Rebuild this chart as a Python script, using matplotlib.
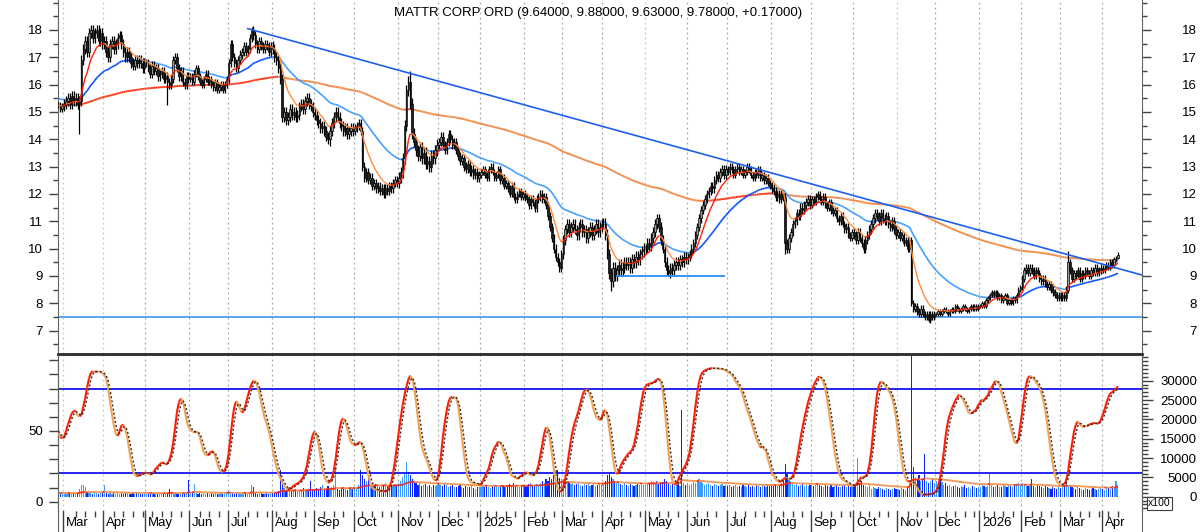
import numpy as np
import pandas as pd
import matplotlib
matplotlib.use('Agg')
import matplotlib.pyplot as plt
from matplotlib.collections import LineCollection

plt.rcParams['font.family'] = ['Liberation Sans', 'DejaVu Sans']

TITLE = "MATTR CORP ORD (9.64000, 9.88000, 9.63000, 9.78000, +0.17000)"
START = '2024-02-27'

# ---- daily closes, one list per month ----
c_2024_02 = [15.25, 15.1, 15.2]
c_2024_03 = [15.3, 15.4, 15.5, 15.3, 15.6, 15.4, 15.5, 15.3, 15.4, 16.9, 17.3, 17.6, 17.2, 17.9, 18.0, 17.7, 17.9, 18.0, 17.6, 17.9, 17.5]
c_2024_04 = [17.6, 17.2, 17.0, 17.5, 17.6, 17.3, 17.5, 17.7, 17.8, 17.5, 17.2, 17.0, 17.2, 17.0, 16.8, 16.7, 16.9, 16.8, 16.9, 16.8, 16.6, 16.8]
c_2024_05 = [16.8, 16.6, 16.4, 16.7, 16.5, 16.6, 16.3, 16.4, 16.5, 16.2, 16.3, 16.1, 16.0, 16.2, 16.9, 17.0, 16.6, 16.3, 16.5, 16.1, 16.0, 16.3, 16.2]
c_2024_06 = [16.3, 16.1, 16.4, 16.6, 16.3, 16.1, 16.0, 16.2, 16.4, 16.1, 16.2, 16.0, 15.9, 16.1, 15.8, 15.9, 16.0, 15.8, 16.0, 16.2]
c_2024_07 = [16.8, 17.5, 17.0, 16.8, 16.6, 16.9, 17.1, 17.2, 17.4, 17.2, 17.3, 17.7, 18.0, 17.8, 17.5, 17.3, 17.6, 17.4, 17.3, 17.5, 17.4, 17.2, 17.4]
c_2024_08 = [17.3, 17.0, 16.9, 16.6, 16.2, 14.8, 15.0, 14.7, 14.8, 15.1, 14.9, 15.0, 14.8, 14.9, 15.2, 15.3, 15.1, 15.4, 15.5, 15.3, 15.2, 15.0]
c_2024_09 = [14.9, 14.7, 14.6, 14.4, 14.5, 14.3, 14.1, 14.0, 14.3, 14.6, 14.8, 15.0, 14.8, 14.6, 14.5, 14.3, 14.4, 14.2, 14.3, 14.4, 14.3]
c_2024_10 = [14.4, 14.5, 14.6, 14.3, 13.0, 12.6, 12.8, 12.5, 12.6, 12.3, 12.4, 12.2, 12.3, 12.1, 12.2, 12.0, 12.2, 12.1, 12.3, 12.2, 12.4, 12.5, 12.4]
c_2024_11 = [12.6, 12.8, 13.3, 14.5, 15.8, 16.1, 15.3, 14.2, 13.9, 13.6, 13.4, 13.7, 13.3, 13.5, 13.1, 13.2, 13.0, 13.4, 13.3, 13.6, 13.8]
c_2024_12 = [13.9, 14.1, 13.8, 13.6, 13.9, 14.2, 14.0, 13.8, 13.9, 13.6, 13.4, 13.2, 13.3, 13.0, 12.9, 13.1, 12.8, 12.9, 12.7, 12.8, 12.6, 12.7]
c_2025_01 = [12.8, 12.9, 12.7, 12.6, 12.9, 13.0, 12.8, 12.6, 12.7, 12.9, 12.5, 12.6, 12.3, 12.4, 12.2, 12.0, 12.3, 11.9, 11.8, 12.0, 12.1, 11.9, 12.0]
c_2025_02 = [11.9, 11.8, 11.6, 11.8, 11.7, 11.5, 11.8, 11.9, 12.0, 11.8, 11.9, 11.6, 11.2, 10.8, 10.4, 10.0, 9.7, 9.5, 9.3, 9.8]
c_2025_03 = [10.3, 10.7, 10.9, 10.6, 10.8, 10.9, 10.7, 10.5, 10.8, 10.9, 10.6, 10.7, 10.4, 10.6, 10.8, 10.5, 10.7, 10.9, 10.6, 10.8, 10.9]
c_2025_04 = [10.9, 10.5, 9.8, 9.1, 8.8, 9.3, 9.0, 9.2, 9.4, 9.2, 9.3, 9.5, 9.4, 9.5, 9.3, 9.6, 9.5, 9.7, 9.6, 9.8, 9.9, 10.0]
c_2025_05 = [10.0, 10.2, 10.1, 10.4, 10.6, 10.9, 11.1, 10.8, 10.3, 10.0, 9.5, 9.2, 9.1, 9.3, 9.2, 9.4, 9.5, 9.4, 9.6, 9.5, 9.7, 9.6]
c_2025_06 = [9.7, 9.8, 10.0, 10.2, 10.5, 10.8, 11.1, 11.4, 11.6, 11.8, 12.0, 12.1, 12.3, 12.2, 12.5, 12.7, 12.6, 12.8, 12.9, 12.7, 12.9]
c_2025_07 = [12.8, 13.0, 12.9, 12.7, 12.9, 13.0, 12.8, 12.9, 12.7, 12.8, 13.0, 12.9, 12.7, 12.6, 12.8, 12.7, 12.9, 12.6, 12.7, 12.5, 12.6, 12.4, 12.3]
c_2025_08 = [12.2, 12.1, 11.9, 12.0, 11.8, 12.0, 11.9, 10.2, 10.0, 10.4, 10.6, 10.9, 11.0, 11.3, 11.2, 11.5, 11.4, 11.6, 11.7, 11.8, 11.6]
c_2025_09 = [11.8, 11.7, 11.9, 12.0, 11.8, 11.7, 11.9, 11.6, 11.5, 11.7, 11.4, 11.3, 11.4, 11.1, 11.0, 11.2, 10.9, 10.7, 10.8, 10.5, 10.4, 10.6]
c_2025_10 = [10.5, 10.3, 10.6, 10.4, 10.2, 10.0, 10.3, 10.5, 10.7, 10.9, 11.1, 11.3, 11.2, 11.0, 11.3, 11.1, 11.0, 11.2, 10.9, 10.8, 11.0, 10.7, 10.5]
c_2025_11 = [10.6, 10.4, 10.5, 10.2, 10.3, 10.0, 10.3, 8.0, 7.8, 7.9, 7.7, 7.6, 7.8, 7.6, 7.5, 7.6, 7.4, 7.6, 7.5, 7.6]
c_2025_12 = [7.6, 7.7, 7.6, 7.7, 7.8, 7.7, 7.6, 7.7, 7.8, 7.7, 7.9, 7.8, 7.7, 7.8, 7.9, 7.8, 7.7, 7.8, 7.9, 7.8, 7.9, 7.8, 7.9]
c_2026_01 = [7.9, 8.0, 7.9, 8.1, 8.2, 8.3, 8.4, 8.3, 8.4, 8.2, 8.3, 8.1, 8.2, 8.3, 8.0, 8.1, 8.0, 8.2, 8.1, 8.3, 8.5, 8.6]
c_2026_02 = [8.9, 9.2, 9.3, 9.1, 9.3, 9.2, 9.0, 9.2, 9.1, 8.9, 8.8, 8.9, 8.7, 8.6, 8.7, 8.5, 8.4, 8.3, 8.2, 8.3]
c_2026_03 = [8.2, 8.3, 8.2, 8.5, 9.5, 9.2, 8.9, 9.1, 9.0, 9.2, 8.9, 9.1, 9.0, 9.2, 9.1, 9.0, 9.2, 9.1, 9.3, 9.1, 9.2, 9.3]
c_2026_04 = [9.2, 9.3, 9.4, 9.3, 9.5, 9.4, 9.6, 9.61, 9.78]

# ---- daily volume (x100), one list per month ----
v_2024_02 = [9, 8, 10]
v_2024_03 = [8, 9, 7, 10, 8, 9, 8, 9, 20, 31, 30, 26, 12, 10, 9, 8, 11, 9, 8, 10, 9]
v_2024_04 = [29, 9, 8, 10, 7, 9, 8, 11, 7, 9, 8, 10, 9, 7, 8, 9, 8, 10, 9, 7, 8, 9]
v_2024_05 = [8, 9, 7, 10, 8, 9, 8, 7, 9, 8, 10, 9, 20, 12, 10, 9, 8, 7, 9, 8, 10, 9, 44]
v_2024_06 = [12, 10, 34, 9, 8, 10, 7, 9, 8, 9, 8, 10, 7, 9, 8, 7, 9, 8, 10, 9]
v_2024_07 = [15, 12, 9, 8, 10, 9, 8, 7, 9, 10, 8, 9, 30, 25, 9, 8, 10, 9, 8, 7, 9, 8, 10]
v_2024_08 = [10, 9, 12, 15, 68, 40, 22, 18, 20, 25, 15, 18, 20, 14, 16, 18, 22, 15, 17, 20, 40, 18]
v_2024_09 = [18, 22, 20, 25, 30, 18, 20, 28, 22, 25, 30, 72, 20, 18, 22, 25, 20, 18, 22, 24, 20]
v_2024_10 = [25, 22, 30, 70, 55, 45, 40, 50, 35, 30, 28, 32, 30, 25, 28, 30, 35, 28, 25, 30, 28, 32, 30]
v_2024_11 = [35, 40, 50, 60, 90, 65, 55, 45, 40, 35, 30, 35, 28, 30, 32, 28, 30, 25, 30, 28, 30]
v_2024_12 = [35, 30, 28, 32, 30, 25, 28, 30, 26, 24, 28, 30, 25, 22, 28, 26, 24, 30, 22, 20, 25, 24]
v_2025_01 = [26, 28, 24, 30, 25, 22, 28, 26, 30, 24, 25, 28, 30, 26, 28, 32, 30, 35, 28, 30, 26, 28, 30]
v_2025_02 = [30, 28, 32, 35, 30, 28, 33, 30, 35, 40, 35, 45, 40, 50, 45, 55, 50, 70, 48, 45]
v_2025_03 = [45, 40, 35, 38, 32, 35, 30, 33, 35, 30, 28, 32, 30, 35, 28, 30, 32, 28, 30, 35, 32]
v_2025_04 = [35, 40, 55, 60, 50, 45, 40, 35, 38, 32, 30, 35, 30, 28, 32, 30, 28, 30, 32, 30, 35, 30]
v_2025_05 = [30, 32, 35, 40, 38, 35, 40, 32, 35, 38, 45, 40, 35, 30, 32, 28, 30, 32, 28, 224, 35, 30]
v_2025_06 = [35, 30, 32, 38, 35, 40, 45, 38, 35, 30, 32, 35, 30, 28, 32, 30, 28, 30, 32, 28, 30]
v_2025_07 = [28, 30, 25, 28, 30, 26, 28, 25, 30, 28, 26, 30, 25, 28, 26, 30, 28, 25, 30, 28, 26, 30, 28]
v_2025_08 = [30, 28, 32, 30, 28, 35, 40, 85, 60, 45, 40, 35, 30, 32, 28, 30, 32, 28, 30, 28, 30]
v_2025_09 = [32, 28, 30, 35, 30, 28, 25, 30, 28, 26, 30, 25, 28, 30, 26, 25, 28, 30, 25, 28, 26, 30]
v_2025_10 = [28, 30, 100, 35, 40, 30, 28, 25, 30, 20, 25, 22, 20, 25, 22, 20, 18, 22, 20, 18, 20, 22, 20]
v_2025_11 = [20, 18, 22, 20, 18, 25, 30, 370, 78, 50, 45, 55, 40, 45, 110, 40, 35, 40, 45, 35]
v_2025_12 = [40, 35, 45, 38, 30, 35, 28, 30, 25, 28, 30, 25, 22, 28, 25, 30, 22, 25, 20, 28, 25, 22, 25]
v_2026_01 = [25, 30, 28, 25, 28, 59, 30, 25, 28, 30, 26, 25, 30, 28, 25, 30, 28, 26, 30, 32, 35, 30]
v_2026_02 = [35, 30, 32, 28, 30, 45, 28, 25, 30, 28, 25, 22, 28, 25, 22, 20, 25, 22, 20, 25]
v_2026_03 = [22, 25, 28, 45, 30, 28, 25, 22, 20, 25, 22, 20, 18, 22, 20, 18, 20, 22, 20, 18, 20, 22]
v_2026_04 = [20, 18, 25, 22, 20, 28, 22, 40, 30]

# typical wick length beyond the candle body, per month (price units)
wick_by_month = [0.12, 0.18, 0.18, 0.15, 0.12, 0.15, 0.18, 0.18, 0.15, 0.2, 0.15, 0.12, 0.15,
                 0.18, 0.2, 0.18, 0.15, 0.12, 0.15, 0.12, 0.15, 0.12, 0.07, 0.08, 0.12, 0.12, 0.1]

# notable wick extremes
low_wicks = {'2024-03-13': 14.2, '2024-05-16': 15.25, '2024-09-12': 13.75, '2025-04-07': 8.45,
             '2025-05-19': 9.0, '2025-08-12': 9.8, '2025-11-25': 7.3, '2026-04-13': 9.63}
high_wicks = {'2024-07-17': 18.1, '2024-11-11': 16.5, '2025-05-12': 11.25, '2026-03-06': 9.9,
              '2026-04-13': 9.88}
last_open = 9.64

# starting levels of the moving averages (read at left edge)
ma_seed = {'short': 15.25, 'mid': 15.5, 'long': 15.25}
vol_ma_seed = 1000

trend_start = ('2024-07-15', 18.05)
trend_end_price_at_edge = 9.03
support_9 = ('2025-04-10', '2025-06-27', 9.0)
support_75 = 7.5

price_ticks = list(range(7, 19))
osc_ticks = [0, 50]
vol_ticks = [0, 5000, 10000, 15000, 20000, 25000, 30000]

# ---------------------------------------------------------------
months_c = [c_2024_02, c_2024_03, c_2024_04, c_2024_05, c_2024_06, c_2024_07, c_2024_08,
            c_2024_09, c_2024_10, c_2024_11, c_2024_12, c_2025_01, c_2025_02, c_2025_03,
            c_2025_04, c_2025_05, c_2025_06, c_2025_07, c_2025_08, c_2025_09, c_2025_10,
            c_2025_11, c_2025_12, c_2026_01, c_2026_02, c_2026_03, c_2026_04]
months_v = [v_2024_02, v_2024_03, v_2024_04, v_2024_05, v_2024_06, v_2024_07, v_2024_08,
            v_2024_09, v_2024_10, v_2024_11, v_2024_12, v_2025_01, v_2025_02, v_2025_03,
            v_2025_04, v_2025_05, v_2025_06, v_2025_07, v_2025_08, v_2025_09, v_2025_10,
            v_2025_11, v_2025_12, v_2026_01, v_2026_02, v_2026_03, v_2026_04]
close = np.array([x for m in months_c for x in m], dtype=float)
vol = np.array([x for m in months_v for x in m], dtype=float) * 100
wick = np.array([w for m, w in zip(months_c, wick_by_month) for _ in m], dtype=float)
n = len(close)
dates = pd.bdate_range(START, periods=n)
idx = np.arange(n)

opn = np.concatenate([[close[0]], close[:-1]])
opn[-1] = last_open
high = np.maximum(opn, close) + wick
low = np.minimum(opn, close) - wick
pos = {d.strftime('%Y-%m-%d'): i for i, d in enumerate(dates)}
for d, v in low_wicks.items():
    if d in pos:
        low[pos[d]] = v
for d, v in high_wicks.items():
    if d in pos:
        high[pos[d]] = v


def ema(x, period, seed):
    a = 2.0 / (period + 1)
    out = np.empty(len(x))
    prev = seed
    for i, v in enumerate(x):
        prev = prev + a * (v - prev)
        out[i] = prev
    return out


ma_s = ema(close, 10, ma_seed['short'])
ma_m = ema(close, 40, ma_seed['mid'])
ma_l = ema(close, 200, ma_seed['long'])
vma = ema(vol, 40, vol_ma_seed)

hh = pd.Series(high).rolling(14, min_periods=1).max().values
ll = pd.Series(low).rolling(14, min_periods=1).min().values
rng = hh - ll
raw = np.where(rng > 0, 100 * (close - ll) / np.where(rng > 0, rng, 1), np.nan)
k1 = pd.Series(raw).rolling(5, min_periods=1).mean()
kline = k1.rolling(3, min_periods=1).mean().values
dline = pd.Series(kline).rolling(3, min_periods=1).mean().values


def dir_line(ax, x, y, up_col, dn_col, lw, z=3):
    pts = np.column_stack([x, y])
    segs = np.stack([pts[:-1], pts[1:]], axis=1)
    ok = ~np.isnan(segs).any(axis=(1, 2))
    cols = np.where(np.diff(y) >= 0, up_col, dn_col)
    lc = LineCollection(segs[ok], colors=list(cols[ok]), linewidths=lw, zorder=z)
    ax.add_collection(lc, autolim=False)


W, H = 1200, 532
fig = plt.figure(figsize=(12, 5.32), dpi=100)
L, R = 58, 1142
ax1 = fig.add_axes([L / W, 1 - 354 / H, (R - L) / W, 354 / H])
axv = fig.add_axes([L / W, 1 - 511 / H, (R - L) / W, (511 - 354) / H])
ax2 = fig.add_axes([L / W, 1 - 511 / H, (R - L) / W, (511 - 354) / H])
ax3 = fig.add_axes([L / W, 0, (R - L) / W, 21 / H])

XL = (-0.2, 566.6)
VL = (-3698, 36905)

# month boundaries
mstarts = [i for i in range(1, n) if dates[i].month != dates[i - 1].month]
green_months = {(2024, 3), (2024, 4), (2025, 5), (2025, 11)}
for i in mstarts:
    col = '#a6dca6' if (dates[i].year, dates[i].month) in green_months else '#a8a8a8'
    for a in (ax1, axv):
        a.axvline(i - 0.5, color=col, lw=0.9, ls=(0, (1.5, 2.5)), zorder=0)

# candles
up = close >= opn
ax1.vlines(idx, low, high, color='black', lw=0.9, zorder=4)
ax1.bar(idx[up], (close - opn)[up], bottom=opn[up], width=0.75, color='#8e9e8e',
        edgecolor='black', linewidth=0.5, zorder=5)
ax1.bar(idx[~up], (close - opn)[~up], bottom=opn[~up], width=0.75, color='#202020',
        edgecolor='black', linewidth=0.5, zorder=5)

# moving averages
dir_line(ax1, idx, ma_l, '#ff3a1a', '#f08a48', 1.4, z=3)
dir_line(ax1, idx, ma_m, '#0a50ff', '#3c9cff', 1.2, z=3)
dir_line(ax1, idx, ma_s, '#ff1a00', '#ff8a3a', 1.0, z=6)

# trend lines
i0 = pos[trend_start[0]]
ax1.plot([i0, XL[1]], [trend_start[1], trend_end_price_at_edge], color='#1e5ff0', lw=1.2, zorder=7)
ax1.plot([pos[support_9[0]], pos[support_9[1]]], [support_9[2]] * 2, color='#2a8cf0', lw=1.3, zorder=7)
ax1.axhline(support_75, color='#2a8cf0', lw=1.1, zorder=2)

# title
fig.text(598 / W, 1 - 13 / H, TITLE, ha='center', va='center', fontsize=9.5, color='black')

# lower panel: volume axes underneath, oscillator axes on top (transparent)
dn = np.concatenate([[False], close[1:] < close[:-1]])
axv.bar(idx[~dn], vol[~dn], width=0.6, color='#3d9bff', zorder=2)
axv.bar(idx[dn], vol[dn], width=0.6, color='#0a24ff', zorder=2)
dir_line(axv, idx, vma, '#ff2a10', '#f0904a', 1.3, z=3)
ax2.axhline(80, color='#0000f0', lw=1.2, zorder=2)
ax2.axhline(20, color='#0000f0', lw=1.2, zorder=2)
dir_line(ax2, idx, kline, '#ff1a00', '#f3a050', 1.5, z=5)
ax2.plot(idx, dline, color='#303030', lw=1.0, ls=(0, (1.5, 1.5)), zorder=6)
axv.set_zorder(1)
ax2.set_zorder(2)
ax2.patch.set_visible(False)

# limits (after plotting)
ax1.set_ylim(6.14, 19.098)
ax2.set_ylim(-6.58, 104.45)
axv.set_ylim(*VL)
for a in (ax1, ax2, ax3, axv):
    a.set_xlim(*XL)

TC = '#404040'
RPAD = 55 / 1.389  # right labels are right-aligned 55 px right of the right spine

# price axis (left + right)
ax1.set_yticks(price_ticks)
ax1.set_yticks(np.arange(6.5, 19.01, 0.5), minor=True)
ax1.tick_params(axis='y', which='major', direction='out', length=6.5, width=1, pad=4.3,
                labelsize=9.5, color=TC, right=True, labelright=False)
ax1.tick_params(axis='y', which='minor', direction='out', length=3.5, width=1, color=TC, right=True)
ax1.tick_params(axis='x', which='both', bottom=False, labelbottom=False)
for v in price_ticks:
    ax1.annotate(str(v), xy=(1, v), xycoords=('axes fraction', 'data'),
                 xytext=(RPAD, 0), textcoords='offset points',
                 ha='right', va='center_baseline', fontsize=9.5, annotation_clip=False)

# oscillator axis (left)
ax2.set_yticks(osc_ticks)
ax2.set_yticks(np.arange(0, 101, 10), minor=True)
ax2.tick_params(axis='y', which='major', direction='out', length=6.5, width=1, pad=4.3,
                labelsize=9.5, color=TC)
ax2.tick_params(axis='y', which='minor', direction='out', length=6.5, width=1, color=TC)
ax2.tick_params(axis='x', which='both', bottom=False, labelbottom=False)
ax2.tick_params(axis='y', which='both', right=False)

# volume axis (right)
axv.set_xticks([])
axv.yaxis.tick_right()
axv.set_yticks(vol_ticks)
axv.set_yticks(np.arange(-3000, 36001, 1000), minor=True)
axv.tick_params(axis='y', which='major', direction='out', length=7.9, width=1,
                labelright=False, left=False, color=TC)
axv.tick_params(axis='y', which='minor', direction='out', length=4.3, width=1, color=TC, left=False)
for v in vol_ticks:
    axv.annotate(str(v), xy=(1, v), xycoords=('axes fraction', 'data'),
                 xytext=(RPAD, 0), textcoords='offset points',
                 ha='right', va='center_baseline', fontsize=9.5, annotation_clip=False)
fig.text(1159.5 / W, 1 - 503.5 / H, 'x100', ha='center', va='center', fontsize=7.5,
         bbox=dict(boxstyle='square,pad=0.15', fc='white', ec=TC, lw=0.8))

# spines
ax1.spines['top'].set_visible(False)
ax1.spines['bottom'].set_visible(False)
for a in (ax1, axv, ax2):
    a.spines['left'].set_color('#5a6a5a')
    a.spines['right'].set_color('#5a6a5a')
for a in (ax2, axv):
    a.spines['top'].set_color('#303030')
    a.spines['top'].set_linewidth(1.8)
    a.spines['bottom'].set_visible(False)

# date band
ax3.set_ylim(0, 1)
ax3.set_xticks([])
ax3.set_yticks([])
for s in ('top', 'bottom'):
    ax3.spines[s].set_visible(False)
ax3.spines['left'].set_color('#5a6a5a')
ax3.spines['right'].set_color('#5a6a5a')
for i in mstarts:
    ax3.plot([i - 0.5, i - 0.5], [0, 1], color=TC, lw=1)
mons = [i for i in idx if dates[i].dayofweek == 0 and all(abs(i - m) > 1 for m in mstarts)]
ax3.vlines(mons, 0.72, 1.0, color=TC, lw=1)
for i in mstarts:
    d = dates[i]
    lab = str(d.year) if d.month == 1 else d.strftime('%b')
    ax3.text(i + 1.0, 0.42, lab, ha='left', va='center', fontsize=9.5, color='black')

fig.savefig('out.png', dpi=100)
